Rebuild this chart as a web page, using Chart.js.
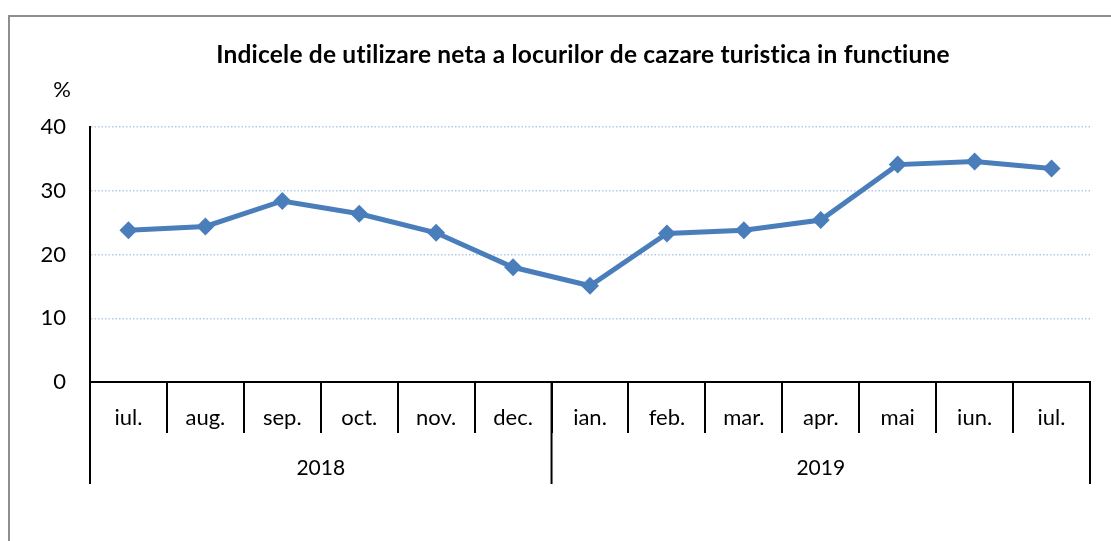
<!DOCTYPE html>
<html>
<head>
<meta charset="utf-8">
<script src="https://cdn.jsdelivr.net/npm/chart.js@4.4.1/dist/chart.umd.min.js"></script>
<style>
html,body{margin:0;padding:0;background:#fff}
canvas{display:block}
</style>
</head>
<body>
<canvas id="chart" width="1111" height="541"></canvas>
<script>
const titleText="Indicele de utilizare neta a locurilor de cazare turistica in functiune"
const unitLabel="%"
const months=["iul.","aug.","sep.","oct.","nov.","dec.","ian.","feb.","mar.","apr.","mai","iun.","iul."]
const years=["2018","2019"]
const yearSpans=[6,7]
const values=[23.8,24.4,28.4,26.4,23.4,18.0,15.1,23.3,23.8,25.4,34.1,34.6,33.5]
const yTicks=[0,10,20,30,40]

const FONT="Lato, 'Open Sans', sans-serif"
const lineBlue="#4a7ebb"

// frame, title, unit, month and year labels under the axis
const decor={
id:"decor",
afterDraw(chart){
const ctx=chart.ctx
const xs=chart.scales.x
const area=chart.chartArea
ctx.save()
ctx.strokeStyle="#8e8e8e"
ctx.lineWidth=2
ctx.strokeRect(9,16,1120,560)

ctx.fillStyle="#000"
ctx.textAlign="center"
ctx.textBaseline="middle"
ctx.font="bold 24.5px "+FONT
ctx.letterSpacing="0.2px" // also stops the "ti" ligature
ctx.fillText(titleText,583,55)
ctx.letterSpacing="0px"

ctx.font="22px "+FONT
ctx.fillText(unitLabel,62,90)

months.forEach((m,i)=>{
ctx.fillText(m,xs.getPixelForValue(i),418)
})

// year groups
ctx.font="21px "+FONT
const half=(xs.getPixelForValue(1)-xs.getPixelForValue(0))/2
let start=0
ctx.strokeStyle="#000"
ctx.lineWidth=2
const edges=[xs.getPixelForValue(0)-half]
yearSpans.forEach((n,k)=>{
const x0=xs.getPixelForValue(start)-half
const x1=xs.getPixelForValue(start+n-1)+half
ctx.fillText(years[k],(x0+x1)/2,468)
edges.push(x1)
start+=n
})
edges.forEach(x=>{
ctx.beginPath()
ctx.moveTo(x,area.bottom)
ctx.lineTo(x,484)
ctx.stroke()
})
ctx.restore()
}
}

new Chart(document.getElementById("chart"),{
type:"line",
data:{
labels:months,
datasets:[{
label:titleText,
data:values,
borderColor:lineBlue,
backgroundColor:lineBlue,
borderWidth:5,
tension:0,
pointStyle:"rectRot",
pointRadius:9,
pointHoverRadius:9,
pointBorderWidth:0,
pointBackgroundColor:lineBlue
}]
},
options:{
responsive:false,
animation:false,
events:[],
layout:{padding:{top:127,right:21,left:0,bottom:0}},
plugins:{legend:{display:false},title:{display:false},tooltip:{enabled:false}},
scales:{
x:{
type:"category",
offset:true,
afterFit(s){s.height=159},
ticks:{display:false},
grid:{offset:true,drawOnChartArea:false,drawTicks:true,tickLength:51,color:"#000",lineWidth:2},
border:{display:true,color:"#000",width:2}
},
y:{
min:yTicks[0],
max:yTicks[yTicks.length-1],
afterFit(s){s.width=90},
afterBuildTicks(s){s.ticks=yTicks.map(v=>({value:v}))},
ticks:{color:"#000",font:{family:FONT,size:22},padding:24},
grid:{color:"#b3c9e8",lineWidth:1.5,drawTicks:false},
border:{display:true,color:"#000",width:2,dash:[1.5,2]}
}
}
},
plugins:[decor]
})
</script>
</body>
</html>
